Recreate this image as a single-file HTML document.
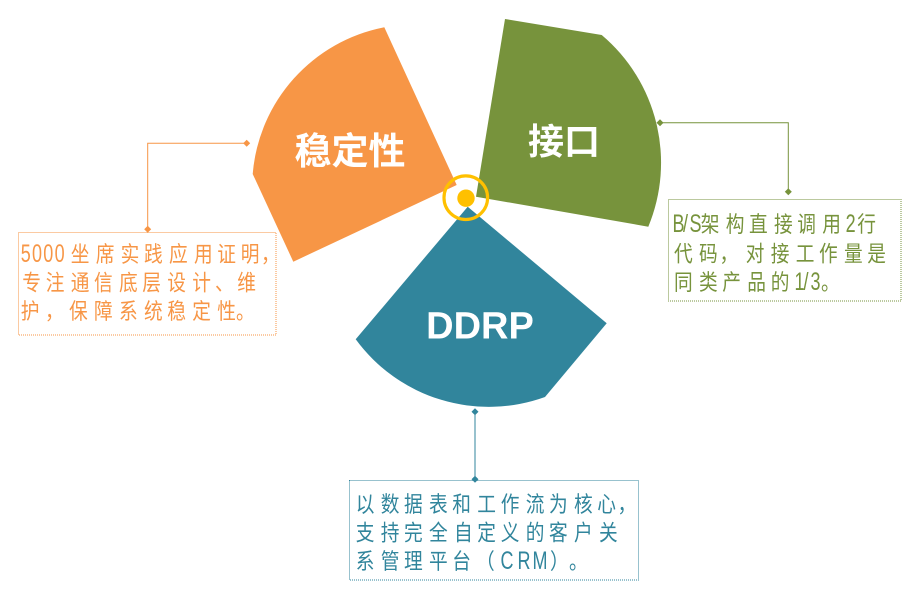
<!DOCTYPE html>
<html>
<head>
<meta charset="utf-8">
<style>
  html, body { margin: 0; padding: 0; background: #ffffff; }
  body { width: 911px; height: 602px; overflow: hidden; }
  svg { display: block; }
  .t { font-family: "Liberation Sans", "Noto Sans CJK SC", sans-serif; font-size: 22px; }
  .l { font-family: "Liberation Sans", "Noto Sans CJK SC", sans-serif; font-size: 25px; }
  .h { font-family: "Liberation Sans", "Noto Sans CJK SC", sans-serif; font-weight: bold; fill: #ffffff; }
</style>
</head>
<body>
<svg width="911" height="602" viewBox="0 0 911 602" xmlns="http://www.w3.org/2000/svg">
  <!-- wedges -->
  <path d="M 456.7 185 L 384.3 27.3 A 163 163 0 0 0 252.7 174 L 293.3 261.7 Z" fill="#F79646"/>
  <path d="M 505 19 L 601.7 35 A 167 167 0 0 1 648.3 226.7 L 476 196.7 Z" fill="#77933C"/>
  <path d="M 467.7 206.7 L 606.7 323.3 L 545 397 A 165 165 0 0 1 355.7 339.3 Z" fill="#31859C"/>

  <!-- center ring -->
  <circle cx="465.8" cy="197.7" r="21.8" fill="none" stroke="#FFC000" stroke-width="3.2"/>
  <circle cx="466" cy="198.2" r="8.7" fill="#FFC000"/>

  <!-- headings -->
  <text class="h" x="350" y="164" font-size="37" text-anchor="middle">稳定性</text>
  <text class="h" x="564" y="154" font-size="36" text-anchor="middle">接口</text>
  <text class="h" x="480" y="338.3" font-size="38" text-anchor="middle">DDRP</text>

  <!-- orange connector -->
  <polyline points="246.7,143.3 147.7,143.3 147.7,229.3" fill="none" stroke="#F79646" stroke-width="1"/>
  <polygon points="246.7,139.8 250.2,143.3 246.7,146.8 243.2,143.3" fill="#F79646"/>
  <polygon points="147.7,225.8 151.2,229.3 147.7,232.8 144.2,229.3" fill="#F79646"/>
  <rect x="18.5" y="232.5" width="257.5" height="102.5" fill="none" stroke="#F79646" stroke-width="1" stroke-dasharray="1 1"/>

  <!-- green connector -->
  <polyline points="660,122.7 788.3,122.7 788.3,191.7" fill="none" stroke="#77933C" stroke-width="1"/>
  <polygon points="660,119.2 663.5,122.7 660,126.2 656.5,122.7" fill="#77933C"/>
  <polygon points="788.3,188.2 791.8,191.7 788.3,195.2 784.8,191.7" fill="#77933C"/>
  <rect x="668.5" y="199.5" width="232.5" height="101.5" fill="none" stroke="#77933C" stroke-width="1" stroke-dasharray="1 1"/>

  <!-- teal connector -->
  <line x1="475" y1="411.7" x2="475" y2="479.3" stroke="#31859C" stroke-width="1"/>
  <polygon points="475,408.2 478.5,411.7 475,415.2 471.5,411.7" fill="#31859C"/>
  <polygon points="475,475.8 478.5,479.3 475,482.8 471.5,479.3" fill="#31859C"/>
  <rect x="349.5" y="480.5" width="289" height="99.5" fill="none" stroke="#31859C" stroke-width="1" stroke-dasharray="1 1"/>

  <!-- orange text -->
  <g transform="scale(0.72,1)" fill="#F79646" class="l">
    <text x="28.75 44.44 60.14 75.83" y="262">5000</text>
  </g>
  <g transform="scale(0.85,1)" fill="#F79646" class="t">
    <text x="83.18 112.59 142.0 169.41 198.82 228.24 255.65 283.18 307.06" y="262">坐席实践应用证明，</text>
    <text x="26.24 53.76 83.18 110.59 140.0 167.41 196.82 226.24 252.94 279.18" y="290.5">专注通信底层设计、维</text>
    <text x="24.35 52.94 81.18 110.59 140.0 169.41 196.82 226.24 255.65 277.65" y="319">护，保障系统稳定性。</text>
  </g>

  <!-- green text -->
  <g transform="scale(0.72,1)" fill="#77933C" class="l">
    <text x="934.03 948.61 957.64" y="232">B/S</text>
    <text x="1174.58" y="232">2</text>
    <text x="1103.47 1115.97 1125.69" y="290">1/3</text>
  </g>
  <g transform="scale(0.85,1)" fill="#77933C" class="t">
    <text x="824.35 853.76 881.18 910.59 938.0 967.41" y="232">架构直接调用</text>
    <text x="1008.59" y="232">行</text>
    <text x="792.94 822.35 846.47 877.29 906.71 936.12 963.53 992.94 1020.35" y="261.5">代码，对接工作量是</text>
    <text x="792.94 822.35 849.76 879.18 906.71" y="290">同类产品的</text>
    <text x="965.88" y="290">。</text>
  </g>

  <!-- teal text -->
  <g transform="scale(0.72,1)" fill="#31859C" class="l">
    <text x="695.14 718.75 739.58" y="569">CRM</text>
  </g>
  <g transform="scale(0.85,1)" fill="#31859C" class="t">
    <text x="418.47 447.88 475.29 504.71 532.12 561.53 589.06 618.47 645.88 675.29 702.71 726.47" y="512">以数据表和工作流为核心，</text>
    <text x="418.47 447.88 475.29 504.71 534.12 561.53 589.06 618.47 645.88 675.29 704.71" y="540.5">支持完全自定义的客户关</text>
    <text x="418.47 447.88 475.29 504.71 532.12 560.0" y="569">系管理平台（</text>
    <text x="647.06 669.41" y="569">）。</text>
  </g>
</svg>
</body>
</html>
